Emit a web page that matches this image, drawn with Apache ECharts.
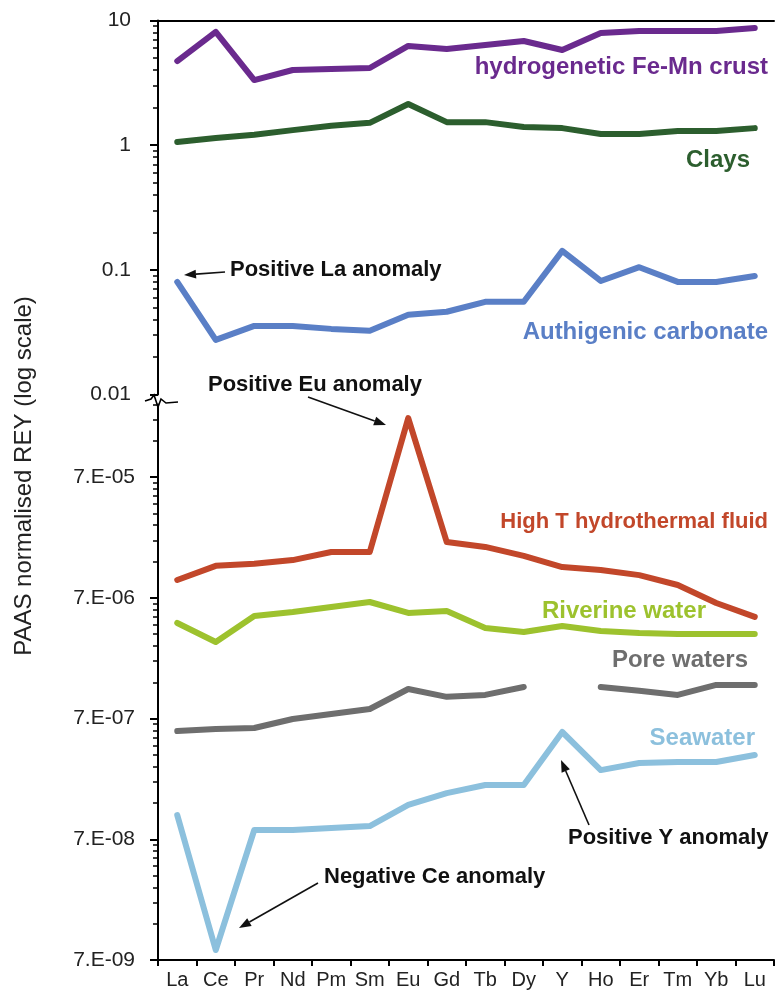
<!DOCTYPE html>
<html>
<head>
<meta charset="utf-8">
<script src="https://cdn.jsdelivr.net/npm/echarts@6/dist/echarts.min.js"></script>
<style>
  html, body { margin: 0; padding: 0; background: #fff; }
  #chart { width: 775px; height: 994px; }
</style>
</head>
<body>
<div id="chart"></div>
<script>
// Rare earth elements + Y, in the usual plotting order
const elements = ['La', 'Ce', 'Pr', 'Nd', 'Pm', 'Sm', 'Eu', 'Gd', 'Tb', 'Dy', 'Y', 'Ho', 'Er', 'Tm', 'Yb', 'Lu'];

// PAAS-normalised concentrations, solid phases (upper panel)
const feMnCrust = [4.73, 8.09, 3.33, 4.01, 4.08, 4.16, 6.25, 5.91, 6.36, 6.85, 5.80, 7.94, 8.24, 8.24, 8.24, 8.71];
const clays = [1.06, 1.14, 1.21, 1.32, 1.43, 1.51, 2.14, 1.53, 1.53, 1.40, 1.37, 1.23, 1.23, 1.30, 1.30, 1.37];
const authigenicCarbonate = [0.080, 0.0274, 0.0355, 0.0355, 0.0336, 0.0325, 0.0437, 0.0461, 0.0554, 0.0554, 0.142, 0.0814, 0.105, 0.080, 0.080, 0.0893];

// PAAS-normalised concentrations, fluids (lower panel)
const hydrothermalFluid = [9.84e-6, 1.29e-5, 1.34e-5, 1.44e-5, 1.68e-5, 1.68e-5, 2.16e-4, 2.03e-5, 1.85e-5, 1.56e-5, 1.26e-5, 1.19e-5, 1.08e-5, 8.95e-6, 6.35e-6, 4.87e-6];
const riverineWater = [4.34e-6, 3.02e-6, 4.96e-6, 5.35e-6, 5.89e-6, 6.47e-6, 5.25e-6, 5.45e-6, 3.94e-6, 3.65e-6, 4.10e-6, 3.72e-6, 3.58e-6, 3.51e-6, 3.51e-6, 3.51e-6];
const poreWaters = [5.52e-7, 5.74e-7, 5.85e-7, 6.95e-7, 7.65e-7, 8.41e-7, 1.23e-6, 1.06e-6, 1.10e-6, 1.28e-6, null, 1.28e-6, 1.19e-6, 1.10e-6, 1.33e-6, 1.33e-6];
const seawater = [1.11e-7, 8.47e-9, 8.36e-8, 8.36e-8, 8.68e-8, 9.0e-8, 1.35e-7, 1.69e-7, 1.97e-7, 1.97e-7, 5.42e-7, 2.62e-7, 3.0e-7, 3.06e-7, 3.06e-7, 3.49e-7];

// Decade ticks of the two log axes and their labels
const upperTicks = [0.01, 0.1, 1, 10];
const upperTickLabels = ['0.01', '0.1', '1', '10'];
const lowerTicks = [7e-9, 7e-8, 7e-7, 7e-6, 7e-5];
const lowerTickLabels = ['7.E-09', '7.E-08', '7.E-07', '7.E-06', '7.E-05'];

const upperRange = [0.01, 10];
const lowerRange = [7e-9, 2.8e-4];

// minor ticks at 2..9 times each decade tick
function minorTicks(majors, range) {
  const out = [];
  majors.forEach(m => {
    for (let k = 2; k <= 9; k++) {
      const v = m * k;
      if (v > range[0] && v < range[1] * 1.0001) out.push(v);
    }
  });
  return out;
}

function nearestLabel(v, ticks, labels) {
  let best = 0, bd = Infinity;
  ticks.forEach((t, i) => {
    const d = Math.abs(Math.log10(v) - Math.log10(t));
    if (d < bd) { bd = d; best = i; }
  });
  return bd < 0.01 ? labels[best] : '';
}

const FONT = '"Liberation Sans", Arial, Helvetica, sans-serif';
const chart = echarts.init(document.getElementById('chart'), null, { renderer: 'canvas' });

const GRID_LEFT = 158, GRID_RIGHT = 1;
const upperGrid = { left: GRID_LEFT, right: GRID_RIGHT, top: 20.5, height: 374, containLabel: false, outerBoundsMode: 'none' };
const lowerGrid = { left: GRID_LEFT, right: GRID_RIGHT, top: 404.5, bottom: 34, containLabel: false, outerBoundsMode: 'none' };

function dataAxis(gridIndex, range, majors) {
  return {
    gridIndex, type: 'log', logBase: 10, min: range[0], max: range[1], position: 'left',
    axisLine: { show: true, lineStyle: { color: '#000', width: 2 } },
    axisTick: { show: true, length: 5, customValues: minorTicks(majors, range), lineStyle: { color: '#000', width: 1.5 } },
    axisLabel: { show: false },
    splitLine: { show: false }
  };
}
function labelAxis(gridIndex, range, majors, labels, margin) {
  return {
    gridIndex, type: 'log', logBase: 10, min: range[0], max: range[1], position: 'left', offset: 0,
    axisLine: { show: false },
    axisTick: { show: true, length: 8, customValues: majors, lineStyle: { color: '#000', width: 2 } },
    axisLabel: {
      show: true, customValues: majors, margin,
      formatter: v => nearestLabel(v, majors, labels),
      fontFamily: FONT, fontSize: 21, color: '#222'
    },
    splitLine: { show: false }
  };
}

function lineSeries(name, data, color, xi, yi) {
  return {
    name, type: 'line', data, xAxisIndex: xi, yAxisIndex: yi,
    showSymbol: false, symbol: 'none', connectNulls: false, silent: true,
    lineStyle: { color, width: 6, cap: 'round', join: 'round' },
    emphasis: { disabled: true }
  };
}

function textItem(text, x, y, color, size, align) {
  return {
    type: 'text', x, y, silent: true,
    style: { text, fill: color, font: 'bold ' + size + 'px ' + FONT, align: align || 'left', verticalAlign: 'middle' }
  };
}

function arrow(x1, y1, x2, y2) {
  const ang = Math.atan2(y2 - y1, x2 - x1);
  const len = 12, half = 4.5;
  const bx = x2 - len * Math.cos(ang), by = y2 - len * Math.sin(ang);
  const px = -Math.sin(ang) * half, py = Math.cos(ang) * half;
  return {
    type: 'group', silent: true,
    children: [
      { type: 'line', shape: { x1, y1, x2: bx, y2: by }, style: { stroke: '#111', lineWidth: 1.6 } },
      { type: 'polygon', shape: { points: [[x2, y2], [bx + px, by + py], [bx - px, by - py]] }, style: { fill: '#111' } }
    ]
  };
}

chart.setOption({
  animation: false,
  backgroundColor: '#fff',
  grid: [upperGrid, lowerGrid],
  xAxis: [
    {
      gridIndex: 0, type: 'category', data: elements, position: 'top', boundaryGap: true,
      axisLine: { show: true, lineStyle: { color: '#000', width: 2 } },
      axisTick: { show: false }, axisLabel: { show: false }, splitLine: { show: false }
    },
    {
      gridIndex: 1, type: 'category', data: elements, position: 'bottom', boundaryGap: true,
      axisLine: { show: true, lineStyle: { color: '#000', width: 2 } },
      axisTick: { show: true, length: 6, lineStyle: { color: '#000', width: 2 } },
      axisLabel: { fontFamily: FONT, fontSize: 20, color: '#222', margin: 10, interval: 0 },
      splitLine: { show: false }
    }
  ],
  yAxis: [
    dataAxis(0, upperRange, upperTicks),
    labelAxis(0, upperRange, upperTicks, upperTickLabels, 27),
    dataAxis(1, lowerRange, lowerTicks),
    labelAxis(1, lowerRange, lowerTicks, lowerTickLabels, 23)
  ],
  series: [
    lineSeries('hydrogenetic Fe-Mn crust', feMnCrust, '#6a2a8e', 0, 0),
    lineSeries('Clays', clays, '#2c5e2e', 0, 0),
    lineSeries('Authigenic carbonate', authigenicCarbonate, '#5a7fc6', 0, 0),
    lineSeries('High T hydrothermal fluid', hydrothermalFluid, '#c2472a', 1, 2),
    lineSeries('Riverine water', riverineWater, '#9dc22e', 1, 2),
    lineSeries('Pore waters', poreWaters, '#6e6e6e', 1, 2),
    lineSeries('Seawater', seawater, '#8cc0dd', 1, 2)
  ],
  graphic: [
    // axis title
    {
      type: 'text', x: 24, y: 476, rotation: Math.PI / 2, silent: true,
      style: { text: 'PAAS normalised REY (log scale)', fill: '#222', font: '24px ' + FONT, align: 'center', verticalAlign: 'middle' }
    },
    // axis break mark
    {
      type: 'polyline', silent: true,
      shape: { points: [[145, 401], [151, 399], [154, 395], [158, 407], [161, 399], [166, 403], [178, 402]] },
      style: { stroke: '#000', lineWidth: 1.6, fill: null }
    },
    // series names
    textItem('hydrogenetic Fe-Mn crust', 768, 67, '#6a2a8e', 24, 'right'),
    textItem('Clays', 750, 160, '#2c5e2e', 24, 'right'),
    textItem('Authigenic carbonate', 768, 332, '#5a7fc6', 24, 'right'),
    textItem('High T hydrothermal fluid', 768, 522, '#c2472a', 22, 'right'),
    textItem('Riverine water', 706, 611, '#9dc22e', 24, 'right'),
    textItem('Pore waters', 748, 660, '#6e6e6e', 24, 'right'),
    textItem('Seawater', 755, 738, '#8cc0dd', 24, 'right'),
    // anomaly annotations
    textItem('Positive La anomaly', 230, 270, '#111', 22),
    arrow(225, 272, 184, 275),
    textItem('Positive Eu anomaly', 208, 385, '#111', 22),
    arrow(308, 397, 386, 425),
    textItem('Positive Y anomaly', 568, 838, '#111', 22),
    arrow(589, 825, 561, 760),
    textItem('Negative Ce anomaly', 324, 877, '#111', 22),
    arrow(318, 883, 239, 928)
  ]
});
</script>
</body>
</html>
